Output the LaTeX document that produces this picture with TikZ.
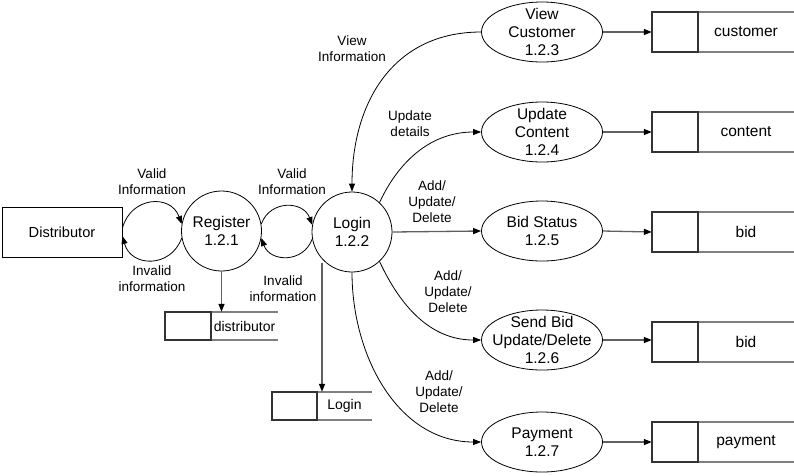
\documentclass[tikz,border=0pt]{standalone}
\usepackage{fontspec}
\setmainfont{Liberation Sans}
\usetikzlibrary{arrows.meta,shapes.geometric,calc}
\definecolor{lineg}{HTML}{606060}
\definecolor{boxd}{HTML}{333333}
\definecolor{storeg}{HTML}{808080}
\begin{document}
\begin{tikzpicture}[x=1pt,y=-1pt,
  curve/.style={draw=black,line width=0.8pt,-{Triangle[length=8pt,width=6pt]}},
  flow/.style={draw=lineg,line width=1.3pt,-{Triangle[length=8pt,width=6pt,color=black]}},
  proc/.style={circle,draw,line width=0.8pt,minimum size=80pt,inner sep=0pt,align=center,font=\fontsize{15.5}{18}\selectfont},
  oval/.style={ellipse,draw,line width=0.8pt,minimum width=121pt,minimum height=60pt,inner sep=0pt},
  ovaltext/.style={align=center,font=\fontsize{15.5}{18}\selectfont,inner sep=0pt},
  lbl/.style={align=center,font=\fontsize{13.5}{16}\selectfont,inner sep=0pt},
  bigstore/.style={inner sep=0pt,minimum height=40pt,font=\fontsize{15.5}{18}\selectfont},
  smallstore/.style={inner sep=0pt,minimum height=28pt,font=\fontsize{14}{16}\selectfont},
  ext/.style={draw,line width=0.9pt,minimum width=120pt,minimum height=50pt,inner sep=0pt,font=\fontsize{14.6}{17}\selectfont}
]
\useasboundingbox (0,0) rectangle (794,475);

% external entity and processes
\node[ext] (dist) at (62,232) {Distributor};
\node[proc] (reg) at (221.5,231) {Register\\1.2.1};
\node[proc] (login) at (352,232) {Login\\1.2.2};

\node[oval] (p3) at (542,32) {};
\node[ovaltext] (t3) at (p3) {View\\Customer\\1.2.3};
\node[oval] (p4) at (542,132) {};
\node[ovaltext] (t4) at (p4) {Update\\Content\\1.2.4};
\node[oval] (p5) at (542,231) {};
\node[ovaltext] (t5) at (p5) {Bid Status\\1.2.5};
\node[oval] (p6) at (542,340) {};
\node[ovaltext] (t6) at (p6) {Send Bid\\Update/Delete\\1.2.6};
\node[oval] (p7) at (542,442) {};
\node[ovaltext] (t7) at (p7) {Payment\\1.2.7};

% data stores
\node[bigstore] (s3) at (723,32) {\hspace*{46pt}\makebox[96pt]{customer}};
\node[bigstore] (s4) at (723,132) {\hspace*{46pt}\makebox[96pt]{content}};
\node[bigstore] (s5) at (723,232) {\hspace*{46pt}\makebox[96pt]{bid}};
\node[bigstore] (s6) at (723,342) {\hspace*{46pt}\makebox[96pt]{bid}};
\node[bigstore] (s7) at (723,442) {\hspace*{46pt}\makebox[96pt]{payment}};
\node[smallstore] (ds) at (221.5,326) {\hspace*{46pt}\makebox[67pt]{distributor}};
\node[smallstore] (ls) at (322,406) {\hspace*{45pt}\makebox[55pt]{Login}};

\foreach \s/\d in {s3/46,s4/46,s5/46,s6/46,s7/46,ds/46,ls/45}{
  \draw[storeg,line width=1.5pt] (\s.north west) -- (\s.north east) (\s.south west) -- (\s.south east);
  \draw[boxd,line width=1.5pt] (\s.north west) rectangle ([xshift=\d pt]\s.south west);
}

% loops distributor <-> register
\draw[curve] ([yshift=4pt]dist.east) to[out=75,in=110,looseness=1.4] (reg.170);
\draw[curve] (reg.190) to[out=-110,in=-75,looseness=1.4] ([yshift=-4pt]dist.east);
% loops register <-> login
\draw[curve] (reg.10) to[out=70,in=110,looseness=1.3] (login.170);
\draw[curve] (login.190) to[out=-110,in=-70,looseness=1.3] (reg.-10);

% login to processes
\draw[curve] (p3.west) to[out=180,in=90,looseness=1.1] (login.north);
\draw[curve] (login.47) to[out=65,in=180] (p4.west);
\draw[flow] (login.east) -- (p5.west);
\draw[curve] (login.-47) to[out=-65,in=180] (p6.west);
\draw[curve] (login.south) to[out=-90,in=180] (p7.west);

% processes to stores
\draw[flow] (p3.east) -- (s3.west);
\draw[flow] (p4.east) -- (s4.west);
\draw[flow] (p5.east) -- (s5.west);
\draw[flow] (p6.east) -- (s6.west |- p6.east);
\draw[flow] (p7.east) -- (s7.west);

% down to stores
\draw[flow] (reg.south) -- (ds.north);
\coordinate (lgo) at (322,263);
\draw[flow] (lgo) -- (lgo |- ls.north);

% labels
\node[lbl] (l1) at (152,182) {Valid\\Information};
\node[lbl] (l2) at (152,279) {Invalid\\information};
\node[lbl] (l3) at (292,182) {Valid\\Information};
\node[lbl] (l4) at (283,289) {Invalid\\information};
\node[lbl] (l5) at (352,49) {View\\Information};
\node[lbl] (l6) at (410,124) {Update\\details};
\node[lbl] (l7) at (432,202) {Add/\\Update/\\Delete};
\node[lbl] (l8) at (448,292) {Add/\\Update/\\Delete};
\node[lbl] (l9) at (439,392) {Add/\\Update/\\Delete};
\end{tikzpicture}
\end{document}
